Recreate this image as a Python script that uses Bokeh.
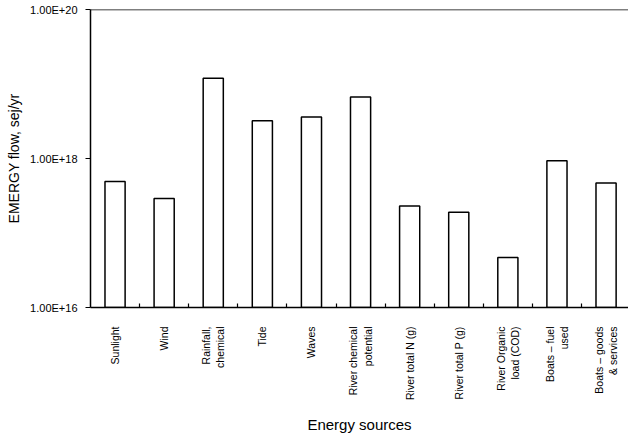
import numpy as np
from bokeh.plotting import figure
from bokeh.models import Range1d, FixedTicker, Span, CustomJSTickFormatter
from bokeh.embed import file_html
from bokeh.resources import INLINE

categories = ["Sunlight", "Wind", "Rainfall,\nchemical", "Tide", "Waves",
              "River chemical\npotential", "River total N (g)", "River total P (g)",
              "River Organic\nload (COD)", "Boats \u2013 fuel\nused", "Boats \u2013 goods\n& services"]
emergy = [4.9e17, 2.9e17, 1.19e19, 3.2e18, 3.6e18, 6.7e18,
          2.3e17, 1.9e17, 4.7e16, 9.3e17, 4.7e17]
y_ticks = [1e16, 1e18, 1e20]
x_title = "Energy sources"
y_title = "EMERGY flow, sej/yr"

n = len(categories)
centers = [i + 0.5 for i in range(n)]
bounds = [float(i) for i in range(1, n)]

FONT = "Liberation Sans"

p = figure(width=628, height=438, x_range=Range1d(0, 10.957), y_range=Range1d(1e16, 1e20),
           y_axis_type="log", output_backend="svg", toolbar_location=None,
           min_border_left=90, min_border_top=9, min_border_bottom=131, min_border_right=0)
p.background_fill_color = "white"
p.border_fill_color = "white"
p.outline_line_color = None
p.grid.visible = False

p.vbar(x=centers, top=emergy, bottom=1e16, width=0.41,
       fill_color="white", line_color="black", line_width=1.5)

p.add_layout(Span(location=1e20, dimension="width", line_color="black", line_width=1.5))

# x axis
xa = p.xaxis[0]
xa.ticker = FixedTicker(ticks=centers, minor_ticks=bounds)
xa.major_label_overrides = {c: lab for c, lab in zip(centers, categories)}
xa.major_label_orientation = np.pi / 2
xa.major_tick_in = 0
xa.major_tick_out = 0
xa.minor_tick_in = 4
xa.minor_tick_out = 0
xa.minor_tick_line_color = "black"
xa.minor_tick_line_width = 1.2
xa.axis_line_color = "black"
xa.axis_line_width = 1.5
xa.major_label_standoff = 19
xa.major_label_text_font = FONT
xa.major_label_text_font_size = "10.5px"
xa.major_label_text_color = "black"
xa.axis_label = x_title
xa.axis_label_text_font = FONT
xa.axis_label_text_font_size = "15px"
xa.axis_label_text_font_style = "normal"
xa.axis_label_text_color = "black"
xa.axis_label_standoff = 13

# y axis
ya = p.yaxis[0]
ya.ticker = FixedTicker(ticks=y_ticks)
ya.formatter = CustomJSTickFormatter(code="return tick.toExponential(2).toUpperCase();")
ya.major_tick_in = 0
ya.major_tick_out = 5
ya.major_tick_line_color = "black"
ya.major_tick_line_width = 1.2
ya.minor_tick_line_color = None
ya.axis_line_color = "black"
ya.axis_line_width = 1.5
ya.major_label_standoff = 8
ya.major_label_text_font = FONT
ya.major_label_text_font_size = "11px"
ya.major_label_text_color = "black"
ya.axis_label = y_title
ya.axis_label_text_font = FONT
ya.axis_label_text_font_size = "14px"
ya.axis_label_text_font_style = "normal"
ya.axis_label_text_color = "black"
ya.axis_label_standoff = 5

open("out.html", "w").write(file_html(p, INLINE))
